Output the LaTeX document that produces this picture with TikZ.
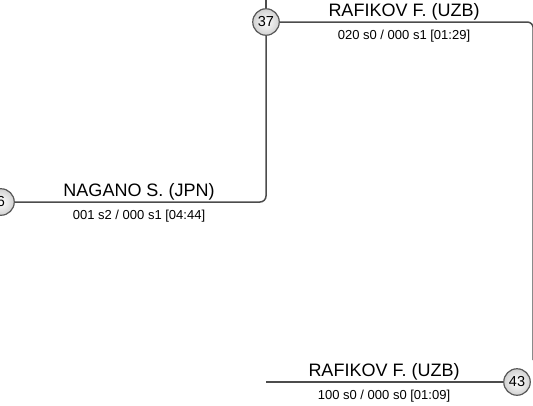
\documentclass[tikz,border=0pt]{standalone}
\usepackage{fontspec}
\setmainfont{Liberation Sans}
\usetikzlibrary{positioning}

\begin{document}
\begin{tikzpicture}[
  x=1pt, y=-1pt,
  every node/.style={font=\footnotesize},
  seed/.style={circle, draw=black!65, line width=1.2pt, inner color=white, outer color=black!18, minimum size=26.5pt, inner sep=0pt, font=\fontsize{14.5}{14.5}\selectfont},
  link/.style={draw=black!70, line width=1.5pt, rounded corners=6pt},
  player/.style={anchor=base, inner sep=0pt, font=\fontsize{18}{18}\selectfont},
  score/.style={anchor=base, inner sep=0pt, font=\fontsize{13}{13}\selectfont}
]
\useasboundingbox (0,0) rectangle (533,405);

% match circles
\node[seed] (m6) at (1,202) {6};
\node[seed] (m37) at (266,22) {37};
\node[seed] (m43) at (517,382) {43};

% free ends
\coordinate (up37) at (266,-5);
\coordinate (down37) at (533.2,360);
\coordinate (in43) at (266,382);

% players and scores
\node[player] (nagano) at (139,196) {NAGANO S. (JPN)};
\node[score] (nagano-s) at (139,219) {001 s2 / 000 s1 [04:44]};

\node[player] (rafikov1) at (404,16) {RAFIKOV F. (UZB)};
\node[score] (rafikov1-s) at (404,39) {020 s0 / 000 s1 [01:29]};

\node[player] (rafikov2) at (384,376) {RAFIKOV F. (UZB)};
\node[score] (rafikov2-s) at (384,399) {100 s0 / 000 s0 [01:09]};

% connectors
\draw[link] (m6.east) -- (m37.south |- m6.east) -- (m37.south);
\draw[link] (m37.north) -- (up37);
\draw[link] (m37.east) -| (down37);
\draw[link] (in43) -- (m43.west);

\end{tikzpicture}
\end{document}
